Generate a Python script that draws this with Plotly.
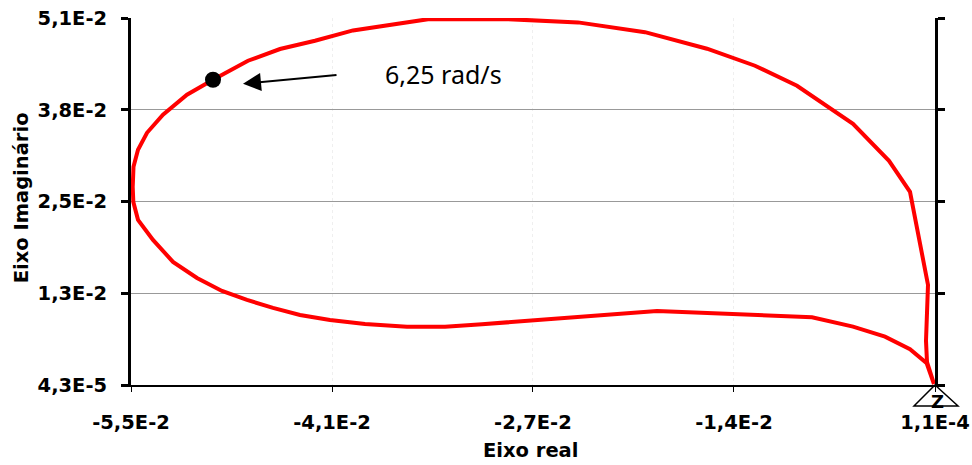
import plotly.graph_objects as go

# Nyquist-style curve (real, imaginary)
real = [0.00004, -0.000438, -0.000507, -0.000370, -0.001603, -0.003043, -0.005511,
        -0.009349, -0.012228, -0.015518, -0.019768, -0.024360, -0.029364, -0.034642,
        -0.039783, -0.042388, -0.044787, -0.046980, -0.049379, -0.051162, -0.052807,
        -0.053903, -0.054520, -0.054829, -0.054883, -0.054842, -0.054520, -0.053492,
        -0.052121, -0.050476, -0.048762, -0.047049, -0.045267, -0.043416, -0.041360,
        -0.038960, -0.036082, -0.033477, -0.030941, -0.026485, -0.023058, -0.018945,
        -0.008321, -0.005511, -0.003317, -0.001603, -0.000459, 0.00004]
imag = [0.00018, 0.003227, 0.006133, 0.013885, 0.026758, 0.031049, 0.036171,
        0.041431, 0.044199, 0.046552, 0.048837, 0.050193, 0.050663, 0.050636,
        0.049085, 0.047660, 0.046511, 0.044891, 0.042261, 0.040185, 0.037416,
        0.034925, 0.032572, 0.030219, 0.027450, 0.025374, 0.022882, 0.020114,
        0.017069, 0.014854, 0.013054, 0.011809, 0.010701, 0.009732, 0.009040,
        0.008487, 0.008113, 0.008113, 0.008445, 0.009137, 0.009732, 0.010286,
        0.009414, 0.008113, 0.006729, 0.004985, 0.003047, 0.00018]

# Marked point at 6,25 rad/s
mark_real = [-0.049379]
mark_imag = [0.042261]
mark_label = "6,25 rad/s"

x_tickvals = [-0.055, -0.04122, -0.02745, -0.01367, 0.00011]
x_ticktext = ["-5,5E-2", "-4,1E-2", "-2,7E-2", "-1,4E-2", "1,1E-4"]
y_tickvals = [0.000043, 0.012732, 0.025422, 0.038111, 0.0508]
y_ticktext = ["4,3E-5", "1,3E-2", "2,5E-2", "3,8E-2", "5,1E-2"]

x_title = "Eixo real"
y_title = "Eixo Imaginário"

tick_font = dict(family="DejaVu Sans", size=19.5, color="black", weight="bold")
title_font = dict(family="DejaVu Sans", size=19.5, color="black", weight="bold")

fig = go.Figure()
fig.add_trace(go.Scatter(x=real, y=imag, mode="lines",
                         line=dict(color="#ff0000", width=4),
                         cliponaxis=False, showlegend=False, hoverinfo="skip"))
fig.add_trace(go.Scatter(x=mark_real, y=mark_imag, mode="markers",
                         marker=dict(color="black", size=16),
                         cliponaxis=False, showlegend=False))

# arrow pointing at the marked point
fig.add_annotation(x=-0.047323, y=0.041708, xref="x", yref="y",
                   ax=95, ay=-9, axref="pixel", ayref="pixel",
                   showarrow=True, arrowhead=2, arrowsize=1.8, arrowwidth=2,
                   arrowcolor="black", text="")
fig.add_annotation(x=-0.037727, y=0.043092, xref="x", yref="y",
                   text=mark_label, showarrow=False, xanchor="left", yanchor="middle",
                   font=dict(family="Noto Sans", size=25, color="black"))

# axis titles
fig.add_annotation(x=0.4963, y=-0.1773, xref="paper", yref="paper",
                   text=x_title, showarrow=False, xanchor="center", yanchor="middle",
                   font=title_font)
fig.add_annotation(x=-0.1368, y=0.5086, xref="paper", yref="paper",
                   text=y_title, showarrow=False, textangle=-90,
                   xanchor="center", yanchor="middle", font=title_font)

# small open triangle marker with "Z" at the origin corner
fig.add_shape(type="path", xref="paper", yref="paper", xsizemode="pixel", ysizemode="pixel",
              xanchor=1, yanchor=0,
              path="M 0 0 L -21 -21 L 23 -21 Z",
              line=dict(color="black", width=1.5), fillcolor="rgba(0,0,0,0)",
              layer="above")
fig.add_annotation(x=1, y=0, xref="paper", yref="paper", text="Z",
                   showarrow=False, xanchor="center", yanchor="middle",
                   yshift=-16, xshift=2,
                   font=dict(family="DejaVu Sans", size=18, color="black", weight="bold"))

fig.update_xaxes(range=[-0.055, 0.00011], tickmode="array", automargin=False,
                 tickvals=x_tickvals, ticktext=x_ticktext, tickfont=tick_font,
                 showline=True, linecolor="black", linewidth=2,
                 ticks="outside", ticklen=5, tickwidth=1, tickcolor="black",
                 showgrid=True, gridcolor="#efefef", griddash="dot", gridwidth=1,
                 zeroline=False, ticklabelstandoff=14)
fig.update_yaxes(range=[0.000043, 0.0508], tickmode="array", automargin=False,
                 tickvals=y_tickvals, ticktext=y_ticktext, tickfont=tick_font,
                 showline=True, linecolor="black", linewidth=3, mirror="ticks",
                 ticks="outside", ticklen=7, tickwidth=3, tickcolor="black",
                 showgrid=True, gridcolor="#999999", gridwidth=1,
                 zeroline=False, ticklabelstandoff=10)

fig.update_layout(width=972, height=465,
                  margin=dict(l=131, r=37, t=18, b=80),
                  plot_bgcolor="white", paper_bgcolor="white")

fig.write_html("out.html")
